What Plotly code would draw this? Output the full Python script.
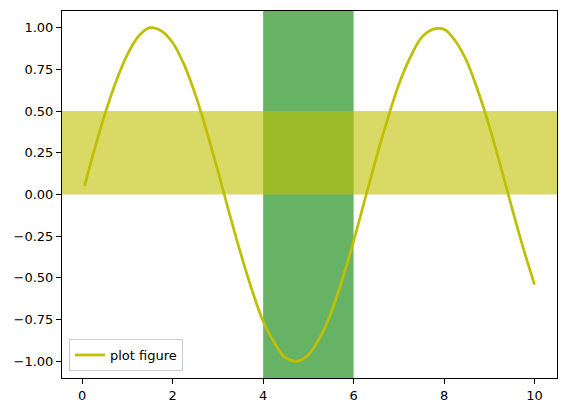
import plotly.graph_objects as go

# 曲线数据
x_vals = [0.05, 0.25, 0.5, 0.75, 1.0, 1.25, 1.5, 1.75, 2.0, 2.25, 2.5, 2.75, 3.0,
          3.25, 3.5, 3.75, 4.0, 4.25, 4.5, 4.75, 5.0, 5.25, 5.5, 5.75, 6.0,
          6.25, 6.5, 6.75, 7.0, 7.25, 7.5, 7.75, 8.0, 8.25, 8.5, 8.75, 9.0,
          9.25, 9.5, 9.75, 10.0]
y_vals = [0.05, 0.25, 0.48, 0.68, 0.84, 0.95, 1.00, 0.98, 0.91, 0.78, 0.60, 0.38, 0.14,
          -0.11, -0.35, -0.57, -0.76, -0.89, -0.98, -1.00, -0.96, -0.86, -0.71, -0.51, -0.28,
          -0.03, 0.22, 0.45, 0.66, 0.82, 0.94, 0.99, 0.99, 0.92, 0.80, 0.62, 0.41,
          0.17, -0.08, -0.32, -0.54]

# 阴影区间
vspan = [4, 6]
hspan = [0, 0.5]

# 刻度
x_ticks = [0, 2, 4, 6, 8, 10]
y_ticks = [-1.0, -0.75, -0.5, -0.25, 0.0, 0.25, 0.5, 0.75, 1.0]
y_ticktext = ['\u22121.00', '\u22120.75', '\u22120.50', '\u22120.25', '0.00',
              '0.25', '0.50', '0.75', '1.00']

fig = go.Figure()

fig.add_trace(go.Scatter(
    x=x_vals, y=y_vals,
    mode='lines',
    name='plot figure',
    line=dict(color='#bfbf00', width=2.7, shape='spline'),
))

# 绿色竖带在下，黄色横带在上
fig.add_vrect(x0=vspan[0], x1=vspan[1], fillcolor='#008000', opacity=0.6,
              line_width=0, layer='below')
fig.add_hrect(y0=hspan[0], y1=hspan[1], fillcolor='#bfbf00', opacity=0.6,
              line_width=0, layer='below')

axis_common = dict(
    showline=True, linecolor='black', linewidth=1, mirror=True,
    ticks='outside', ticklen=5, tickwidth=1, tickcolor='black',
    showgrid=False, zeroline=False,
    tickfont=dict(family='DejaVu Sans', size=13, color='black'),
)

fig.update_xaxes(range=[-0.4475, 10.4975], tickvals=x_ticks, **axis_common)
fig.update_yaxes(range=[-1.1, 1.1], tickvals=y_ticks, ticktext=y_ticktext, **axis_common)

fig.update_layout(
    width=568, height=413,
    margin=dict(l=62, r=10, t=10, b=34),
    plot_bgcolor='white',
    paper_bgcolor='white',
    showlegend=True,
    legend=dict(
        x=0.014, y=0.019, xanchor='left', yanchor='bottom',
        bordercolor='#cccccc', borderwidth=1, bgcolor='rgba(255,255,255,0.8)',
        font=dict(family='DejaVu Sans', size=13, color='black'),
    ),
)

# 去掉页面默认边距，隐藏工具栏
fig.write_html("out.html", config={'displayModeBar': False},
               post_script="document.body.style.margin='0';")
